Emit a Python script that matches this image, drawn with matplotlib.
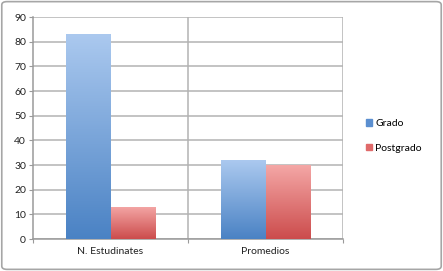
import matplotlib
matplotlib.use("Agg")
import matplotlib.pyplot as plt
import numpy as np
from matplotlib.patches import FancyBboxPatch
from matplotlib.colors import LinearSegmentedColormap

categories = ["N. Estudinates", "Promedios"]
series = ["Grado", "Postgrado"]
grado = [83, 32]
postgrado = [13, 30]
yticks = [0, 10, 20, 30, 40, 50, 60, 70, 80, 90]

plt.rcParams["font.family"] = ["Lato", "DejaVu Sans"]

fig = plt.figure(figsize=(4.43, 2.71), dpi=100)
fig.patch.set_facecolor("white")
border = FancyBboxPatch((0.004, 0.006), 0.992, 0.988, boxstyle="round,pad=0,rounding_size=0.012",
                        transform=fig.transFigure, facecolor="white", edgecolor="#a6a6a6", lw=1.2,
                        zorder=-10)
fig.patches.append(border)

ax = fig.add_axes([0.0745, 0.118, 0.70, 0.819])
ax.set_facecolor("none")

blue = LinearSegmentedColormap.from_list("b", ["#4a82c4", "#abc9ef"])
red = LinearSegmentedColormap.from_list("r", ["#cc4c4c", "#f4a7a6"])
grad = np.linspace(0, 1, 256).reshape(-1, 1)

w = 0.285
x = np.arange(len(categories)) + 0.5
for vals, off, cmap, lab, fc in [(grado, -w / 2, blue, series[0], "#6b9bd6"),
                                  (postgrado, w / 2, red, series[1], "#e07a7a")]:
    bars = ax.bar(x + off, vals, width=w, color=fc, label=lab, zorder=3)
    for b in bars:
        bx, by = b.get_x(), b.get_y()
        bw, bh = b.get_width(), b.get_height()
        im = ax.imshow(grad, cmap=cmap, aspect="auto", origin="lower",
                       extent=[bx, bx + bw, by, by + bh], zorder=4)
        im.set_clip_path(b)

ax.set_xlim(0, 2)
ax.set_ylim(0, 90)
ax.set_yticks(yticks)
ax.yaxis.grid(True, color="#b3b3b3", lw=1.1, zorder=1)
for xv in [1, 2]:
    ax.axvline(xv, color="#b3b3b3", lw=1.1, zorder=1)
ax.set_xticks([0, 1, 2])
ax.set_xticklabels([])
ax.set_xticks(x, minor=True)
ax.set_xticklabels(categories, minor=True)
ax.tick_params(axis="x", which="minor", length=0, labelsize=7.5, colors="#222222", pad=6)
ax.tick_params(axis="x", which="major", length=3, color="#9a9a9a", direction="out")
ax.tick_params(axis="y", length=3, color="#9a9a9a", labelsize=7.5, labelcolor="#222222", pad=2)
for s in ["top", "right"]:
    ax.spines[s].set_visible(False)
for s in ["left", "bottom"]:
    ax.spines[s].set_color("#9a9a9a")
    ax.spines[s].set_linewidth(1.1)

leg = fig.legend(loc="center left", bbox_to_anchor=(0.805, 0.498), frameon=False, fontsize=7.5,
                 handlelength=0.6, handleheight=0.6, handletextpad=0.3, labelspacing=1.5)
leg.legend_handles[0].set_color("#5b8fd0")
leg.legend_handles[1].set_color("#e06a6a")

fig.savefig("out.png", dpi=100)
